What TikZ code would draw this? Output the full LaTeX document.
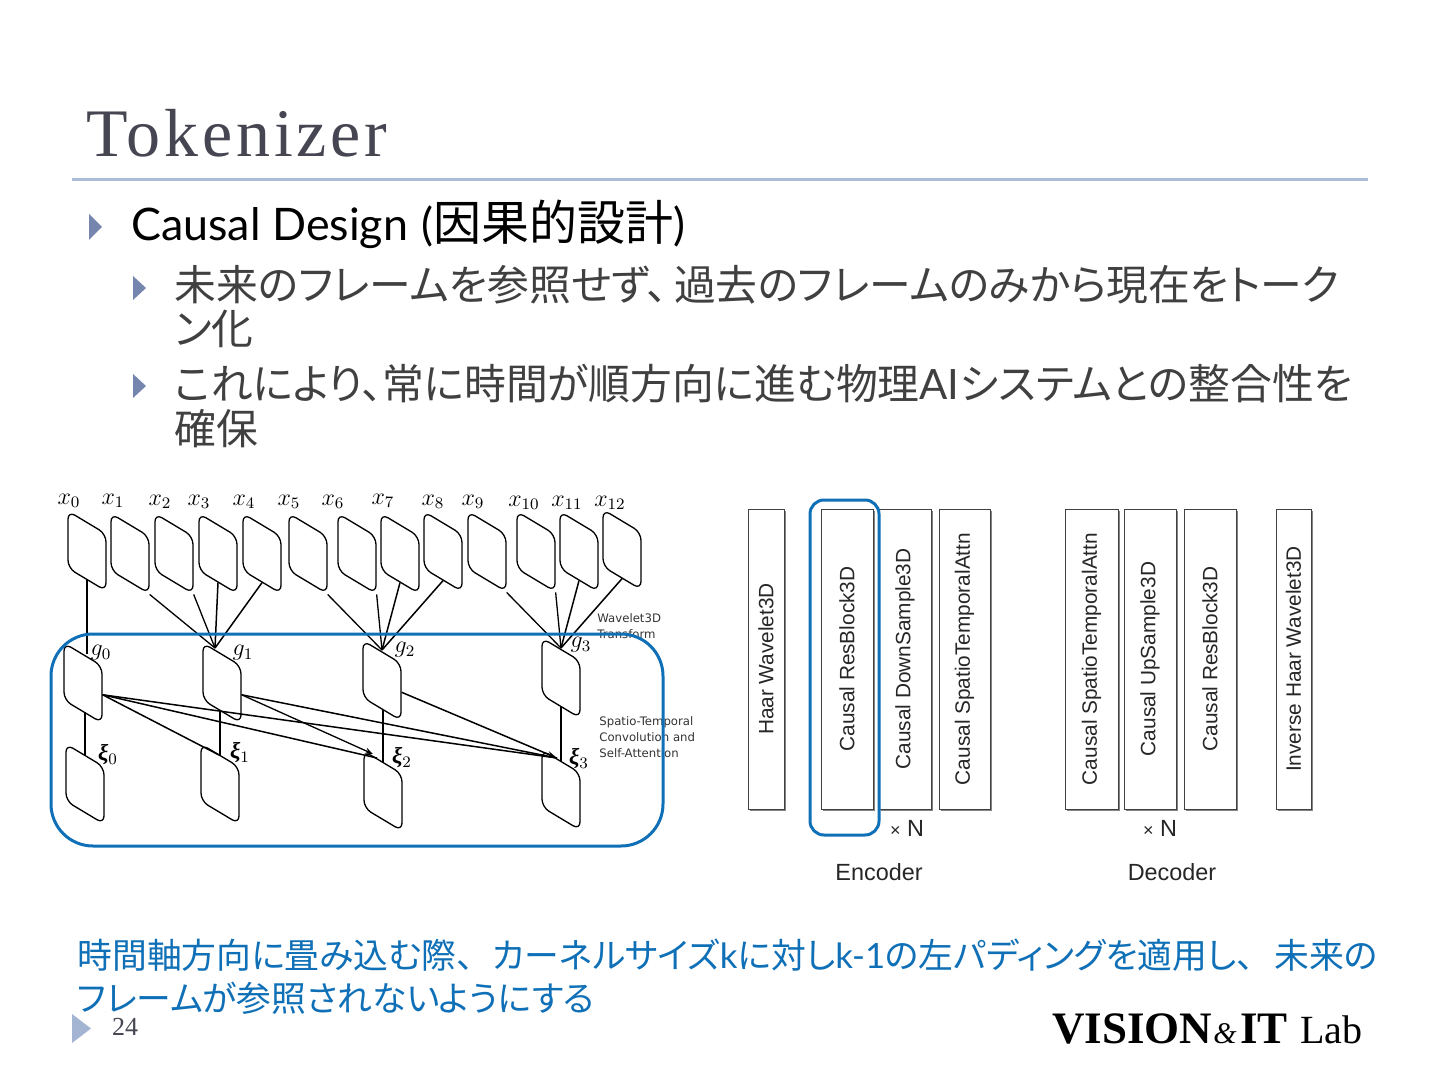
\documentclass[tikz,border=0pt]{standalone}
\usepackage{fontspec}
\usepackage{amsmath}
\setmainfont{Lato}
\newfontfamily\jp[RawFeature=+palt]{Noto Sans CJK JP}
\newfontfamily\ser{Liberation Serif}
\newfontfamily\sertitle[LetterSpace=5.5]{Liberation Serif}
\newfontfamily\arialf{Liberation Sans}
\newfontfamily\dejav{DejaVu Sans}
\usetikzlibrary{shadows,arrows.meta}
\definecolor{blueln}{HTML}{0F70B7}
\definecolor{titlec}{HTML}{464653}
\definecolor{rulec}{HTML}{A9BCD8}
\definecolor{bulc}{HTML}{7585AE}
\definecolor{bullt}{HTML}{A3B5D3}
\definecolor{bodyc}{HTML}{404040}
\tikzset{
  x=0.5pt,y=-0.5pt,
  frameb/.style={draw=black,line width=0.65pt,fill=white,rounded corners=4pt,inner sep=0pt,minimum width=19pt,minimum height=28.5pt,yslant=-0.6},
  lab/.style={inner sep=0pt,font=\fontsize{11.5}{12}\selectfont},
  conn/.style={draw=black,line width=0.75pt},
  thinconn/.style={draw=black,line width=0.65pt},
  bluebox/.style={draw=blueln,line width=1.5pt},
  layerb/.style={draw=black!75,line width=0.5pt,fill=white,inner sep=0pt,minimum height=150pt,drop shadow={shadow xshift=0.9pt,shadow yshift=-0.9pt,fill=black!60,opacity=0.8}},
  layert/.style={inner sep=0pt,rotate=90,font=\arialf\fontsize{10.4}{12}\selectfont,text=black!85},
  captext/.style={inner sep=0pt,font=\arialf\fontsize{11.7}{12}\selectfont,text=black!85},
  smalltext/.style={inner sep=0pt,align=left,anchor=north west,text=black!80,font=\dejav\fontsize{5.85}{8}\selectfont},
  body/.style={inner sep=0pt,anchor=base west,text=bodyc,font=\jp\fontsize{20.9}{24}\selectfont},
  bluet/.style={inner sep=0pt,anchor=base west,text=blueln,font=\jp\fontsize{17.4}{20}\selectfont},
  logot/.style={inner sep=0pt,anchor=base west,text=black,font=\ser\bfseries\fontsize{22.5}{24}\selectfont},
}
\begin{document}
\begin{tikzpicture}
\useasboundingbox (0,0) rectangle (1440,1080);
\fill[white] (0,0) rectangle (1440,1080);
% header
\node[inner sep=0pt,anchor=base west,text=titlec,font=\sertitle\fontsize{34}{36}\selectfont] (title) at (86,157) {Tokenizer};
\draw[rulec,line width=1.5pt] (72,180) -- (1368,180);
% bullets
\fill[bulc] (89,214) -- (102,227) -- (89,240) -- cycle;
\fill[bulc] (133,276) -- (146,288) -- (133,300) -- cycle;
\fill[bulc] (133,374) -- (146,386) -- (133,398) -- cycle;
\fill[bullt] (72,1014) -- (91,1028.5) -- (72,1043) -- cycle;
\node[inner sep=0pt,anchor=base west,text=black,font=\fontsize{22.4}{24}\selectfont] (h1) at (131,241) {Causal Design\hspace{1pt} ({\jp\fontsize{24}{24}\selectfont 因果的設計})};
\node[body] (b1) at (174,300.5) {未来のフレームを参照せず、\hspace{3pt}過去のフレームのみから現在をトーク};
\node[body] (b2) at (174,344.5) {ン化};
\node[body] (b3) at (174,399.5) {これにより、常に時間が順方向に進む物理{\normalfont AI}システムとの整合性を};
\node[body] (b4) at (174,444.5) {確保};
% left figure frames
\foreach \n/\cx/\cy in {x0/87/551,x1/130/553.5,x2/174/553.5,x3/218/553.5,x4/262/553.5,x5/308/553.5,x6/357/553.5,x7/400/553.5,x8/443/551.5,x9/487/551.5,x10/536/551.5,x11/579/551.5,x12/622/549.5,g0/83/683,g1/222/683,g2/382/680.5,g3/561/678,e0/85/784,e1/220/784,e2/383/791,e3/561/790}
  \node[frameb] (\n) at (\cx,\cy) {};
% labels
\foreach \n/\lx/\ly in {0/69/501,1/113/501,2/160/502,3/199/502,4/244/502,5/289/502,6/333/502,7/383/501,8/433/502,9/473/502,10/524/503,11/567/503,12/610/503}
  \node[lab] (lx\n) at (\lx,\ly) {$x_{\n}$};
\foreach \n/\lx/\ly in {0/101/653,1/243/653,2/405/650,3/581/645}
  \node[lab] (lg\n) at (\lx,\ly) {$g_{\n}$};
\foreach \n/\lx/\ly in {0/108/755,1/240/753,2/402/758,3/579/759}
  \node[lab] (le\n) at (\lx,\ly) {{\ser\bfseries\itshape ξ}$_{\n}$};
% connector meeting points
\coordinate (g1p) at (215,648);
\coordinate (g2p) at (382,650);
\coordinate (g3p) at (561,648);
\coordinate (e1p) at (219,755);
\coordinate (e2p) at (377,758);
\coordinate (e2q) at (373,754);
\coordinate (e3p) at (557,758);
% upper connectors
\draw[conn] (x0.south) -- (x0.south |- g0.north);
\draw[thinconn] (x1.south east) -- (g1p);
\draw[thinconn] (x2.south east) -- (g1p);
\draw[conn] (x3.south) -- (g1p);
\draw[conn] (x4.south) -- (g1p);
\draw[thinconn] (x5.south east) -- (g2p);
\draw[thinconn] (x6.south east) -- (g2p);
\draw[conn] (x7.south) -- (g2p);
\draw[conn] (x8.south) -- (g2p);
\draw[thinconn] (x9.south east) -- (g3p);
\draw[thinconn] (x10.south east) -- (g3p);
\draw[conn] (x11.south) -- (g3p);
\draw[conn] (x12.south) -- (g3p);
% lower connectors
\draw[conn] (e0.north |- g0.south) -- (e0.north);
\draw[conn] (e1.north |- g1.south) -- (e1.north);
\draw[conn] (e2.north |- g2.south) -- (e2.north);
\draw[conn] (e3.north |- g3.south) -- (e3.north);
\draw[conn] (g0.east) -- (e1p);
\draw[conn] (g0.east) -- (e2p);
\draw[conn] (g0.east) -- (e3p);
\draw[conn] (g1.east) -- (e3p);
\draw[thinconn,-{Stealth[length=4pt,width=3pt]}] (g1.east) -- (e2q);
\draw[conn,-{Stealth[length=5pt,width=3pt,open]}] (g2.east) -- (e3p);
% side texts
\node[smalltext] (t1) at (597,613) {Wavelet3D\\Transform};
\node[smalltext] (t2) at (599,716) {Spatio-Temporal\\Convolution and\\Self-Attention};
\draw[bluebox,rounded corners=21pt] (51,634) rectangle (663,846);
% right figure
\foreach \n/\a/\b/\t in {
  c1/748/784/Haar Wavelet3D,
  c2/821/873/Causal ResBlock3D,
  c3/879/931/Causal DownSample3D,
  c4/939/990/Causal SpatioTemporalAttn,
  d1/1065/1118/Causal SpatioTemporalAttn,
  d2/1124/1176/Causal UpSample3D,
  d3/1184/1236/Causal ResBlock3D,
  d4/1276/1311/Inverse Haar Wavelet3D}{
  \pgfmathsetmacro{\wdp}{(\b-\a)*0.5}
  \pgfmathsetmacro{\mx}{(\a+\b)*0.5}
  \node[layerb,minimum width=\wdp pt] (\n) at (\mx,659) {};
  \node[layert] (\n t) at (\n.center) {\t};
}
\draw[bluebox,rounded corners=7pt] (810,500) rectangle (879,835);
\node[captext] (n1) at (907,828) {{\fontsize{9}{10}\selectfont ×} N};
\node[captext] (n2) at (1160,828) {{\fontsize{9}{10}\selectfont ×} N};
\node[captext] (enc) at (879,872) {Encoder};
\node[captext] (dec) at (1172,872) {Decoder};
% bottom
\node[bluet] (u1) at (77,968) {時間軸方向に畳み込む際、\hspace{9.5pt}カーネルサイズ{\normalfont k}に対し{\normalfont k-1}の左パディングを適用し、\hspace{10pt}未来の};
\node[bluet] (u2) at (77,1011) {フレームが参照されないようにする};
\node[inner sep=0pt,text=titlec,font=\ser\fontsize{13}{14}\selectfont] (pg) at (125,1027) {24};
% logo
\node[logot] (lg1) at (1052,1043) {VISION};
\node[logot,font=\ser\itshape\fontsize{15}{18}\selectfont] (lg2) at (1213,1043) {\&};
\node[logot] (lg3) at (1240,1043) {IT};
\node[logot,font=\ser\fontsize{20}{22}\selectfont] (lg4) at (1300,1043) {Lab};
\end{tikzpicture}
\end{document}
